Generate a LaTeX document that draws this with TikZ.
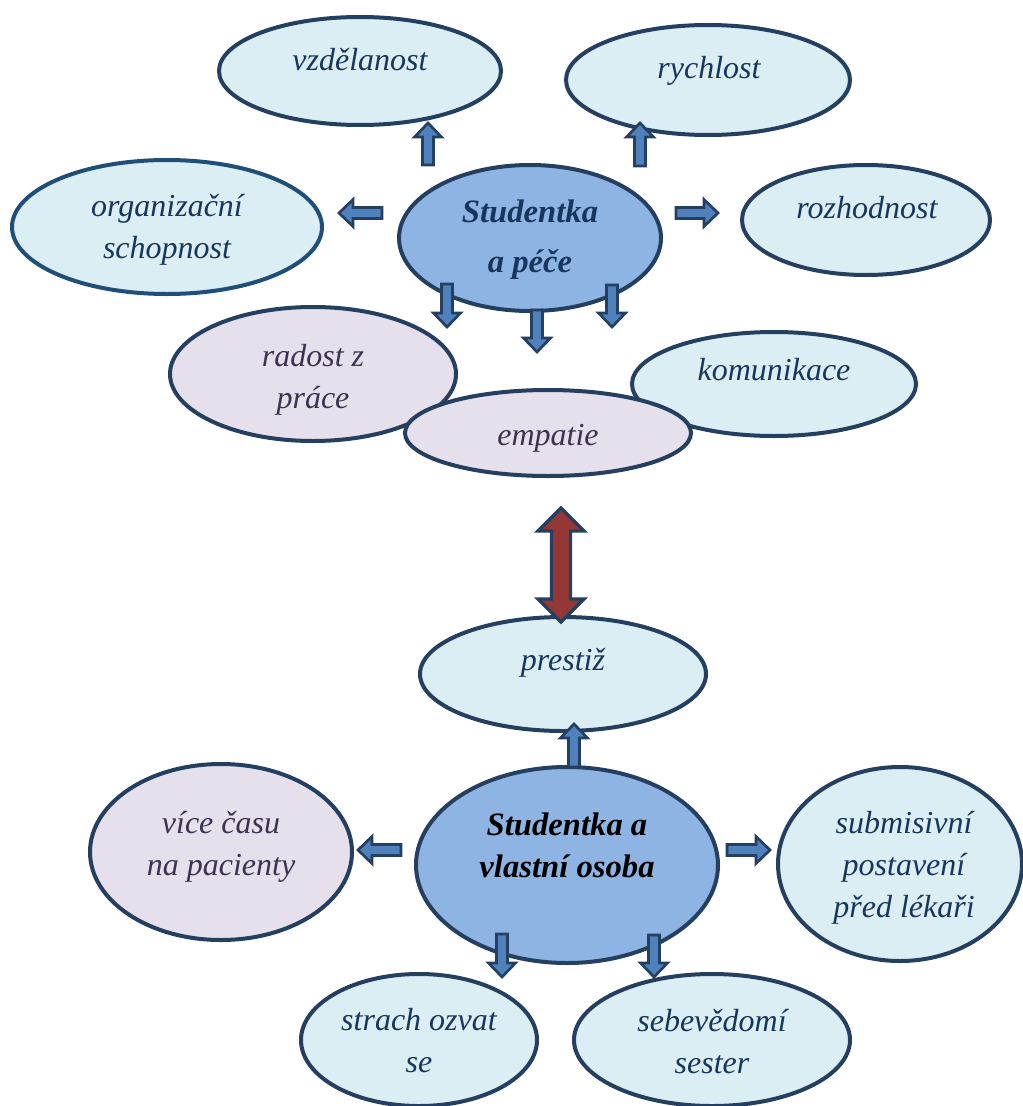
\documentclass[tikz,border=0pt]{standalone}
\usepackage{fontspec}
\setmainfont{Liberation Serif}
\usetikzlibrary{shapes.geometric}
\definecolor{bord}{HTML}{243F60}
\definecolor{bordb}{HTML}{1F4E79}
\definecolor{lblue}{HTML}{DBEEF4}
\definecolor{lpurp}{HTML}{E5E0EC}
\definecolor{cblue}{HTML}{8EB4E3}
\definecolor{arrfill}{HTML}{4F81BD}
\definecolor{redfill}{HTML}{953735}
\definecolor{tnavy}{HTML}{17365D}
\definecolor{tpurp}{HTML}{3F3151}
\tikzset{
 oval/.style={ellipse, draw=bord, line width=3pt, inner sep=0pt},
 ovblue/.style={oval, fill=lblue},
 ovpurp/.style={oval, fill=lpurp},
 ovcent/.style={oval, fill=cblue},
 lab/.style={anchor=base, align=center, inner sep=0pt, font=\fontsize{24}{31.5}\selectfont\itshape},
 labb/.style={lab, text=tnavy},
 labp/.style={lab, text=tpurp},
 labc/.style={anchor=base, align=center, inner sep=0pt, font=\fontsize{24.5}{37}\selectfont\bfseries\itshape},
 blockarr/.style={draw=bord, line width=2pt, fill=arrfill, line join=miter},
 redarr/.style={draw=bord, line width=2.5pt, fill=redfill, line join=miter},
}
\newcommand\barrow[4]{%
 \begin{scope}[shift={(#1,#2)}, rotate=#3]
 \draw[blockarr] (0,-5.5) -- ({#4-14},-5.5) -- ({#4-14},-13.5) -- (#4,0) -- ({#4-14},13.5) -- ({#4-14},5.5) -- (0,5.5) -- cycle;
 \end{scope}}
\begin{document}
\begin{tikzpicture}[x=0.75pt,y=-0.75pt]
\useasboundingbox (0,0) rectangle (1023,1106);
% top cluster ellipses
\node[ovblue, minimum width=211.5pt, minimum height=81pt] (vzd) at (360,71) {};
\node[ovblue, minimum width=213pt, minimum height=82.5pt] (rych) at (708,80) {};
\node[ovblue, draw=bordb, minimum width=232.5pt, minimum height=100.5pt] (org) at (167,227) {};
\node[ovcent, minimum width=196.5pt, minimum height=109.5pt] (sap) at (530,238) {};
\node[ovblue, minimum width=186pt, minimum height=82.5pt] (roz) at (866,220) {};
\node[ovpurp, minimum width=214.5pt, minimum height=100.5pt] (rad) at (313,374) {};
\node[ovblue, minimum width=213pt, minimum height=78pt] (kom) at (774,384) {};
\node[ovpurp, minimum width=214.5pt, minimum height=64.5pt] (emp) at (548,433) {};
% bottom cluster ellipses
\node[ovblue, minimum width=214.5pt, minimum height=85.5pt] (pres) at (563,674) {};
\node[ovcent, minimum width=226.5pt, minimum height=147pt] (svo) at (567,865) {};
\node[ovpurp, minimum width=196.5pt, minimum height=132pt] (vic) at (221,852) {};
\node[ovblue, minimum width=183pt, minimum height=145.5pt] (sub) at (900,864) {};
\node[ovblue, minimum width=177pt, minimum height=99pt] (str) at (419,1040) {};
\node[ovblue, minimum width=207pt, minimum height=99pt] (seb) at (712,1040) {};
% labels (multi-line: anchor at baseline of last line)
\node[labb] (tvzd) at (360,70) {vzdělanost};
\node[labb] (trych) at (709,79) {rychlost};
\node[labb] (torg) at (167,258) {organizační\\schopnost};
\node[labc, text=tnavy] (tsap) at (530,272) {Studentka\\a péče};
\node[labb] (troz) at (867,218) {rozhodnost};
\node[labp] (trad) at (313,408) {radost z\\práce};
\node[labb] (tkom) at (774,380) {komunikace};
\node[labp] (temp) at (548,445) {empatie};
\node[labb] (tpres) at (563,670) {prestiž};
\node[labc, font=\fontsize{24.5}{31.5}\selectfont\bfseries\itshape, text=black] (tsvo) at (567,877) {Studentka a\\vlastní osoba};
\node[labp] (tvic) at (221,875) {více času\\na pacienty};
\node[labb] (tsub) at (904,917) {submisivní\\postavení\\před lékaři};
\node[labb] (tstr) at (419,1072) {strach ozvat\\se};
\node[labb] (tseb) at (712,1073) {sebevědomí\\sester};
% block arrows
\barrow{428}{165}{90}{42}
\barrow{640}{166}{90}{43}
\barrow{382}{213}{180}{43}
\barrow{676}{213}{0}{42}
\barrow{447}{284}{-90}{43}
\barrow{537}{310}{-90}{42}
\barrow{612}{285}{-90}{42}
\barrow{574}{767}{90}{43}
\barrow{401}{850}{180}{43}
\barrow{727}{850}{0}{43}
\barrow{502}{934}{-90}{43}
\barrow{654}{935}{-90}{42}
% red double arrow
\draw[redarr] (561,508) -- (584,531) -- (570.5,531) -- (570.5,599) -- (584,599) -- (561,622) -- (538,599) -- (551.5,599) -- (551.5,531) -- (538,531) -- cycle;
\end{tikzpicture}
\end{document}
